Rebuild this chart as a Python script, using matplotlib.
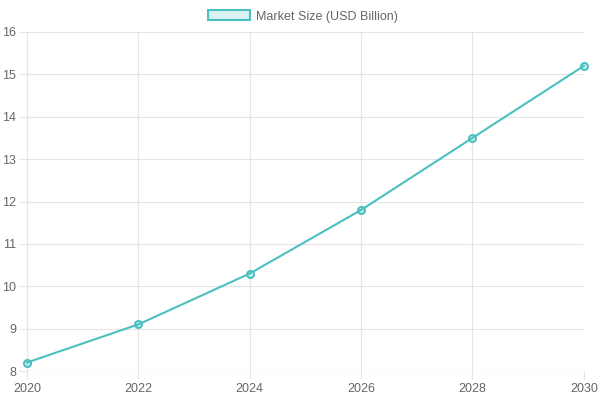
import matplotlib
matplotlib.use("Agg")
import matplotlib.pyplot as plt
from matplotlib.patches import Patch

# Chart data
years = [2020, 2022, 2024, 2026, 2028, 2030]
market_size = [8.2, 9.1, 10.3, 11.8, 13.5, 15.2]

plt.rcParams['font.family'] = ['Liberation Sans', 'DejaVu Sans']
teal = '#4bc0c0'
fill = (75/255, 192/255, 192/255, 0.2)
grid_c = '#e5e5e5'
txt_c = '#666666'

fig = plt.figure(figsize=(6, 4), dpi=100)
ax = fig.add_axes([0.045, 0.0725, 0.928, 0.8475])

ax.plot(years, market_size, color=teal, linewidth=1.5, marker='o',
        markersize=5, markerfacecolor=fill, markeredgecolor=teal,
        markeredgewidth=1.5, zorder=3, clip_on=False)

ax.set_xlim(2020, 2030)
ax.set_ylim(8, 16)
ax.set_xticks(years)
ax.set_yticks(range(8, 17))
ax.grid(True, color=grid_c, linewidth=0.8)
for s in ax.spines.values():
    s.set_visible(False)
ax.axvline(2020, color='#cccccc', linewidth=0.8, zorder=1)
ax.axhline(8, color='#cccccc', linewidth=0.8, zorder=1)
ax.tick_params(axis='both', colors=grid_c, labelcolor=txt_c, labelsize=9,
               length=6, width=0.8)
ax.tick_params(axis='x', pad=3)
ax.tick_params(axis='y', pad=2)

handle = Patch(facecolor=fill, edgecolor=teal, linewidth=1.5)
fig.legend([handle], ['Market Size (USD Billion)'], loc='upper center',
           bbox_to_anchor=(0.505, 1.003), frameon=False, fontsize=9,
           handlelength=3.3, handleheight=0.9, labelcolor=txt_c,
           handletextpad=0.5)

fig.savefig('out.png', dpi=100)
